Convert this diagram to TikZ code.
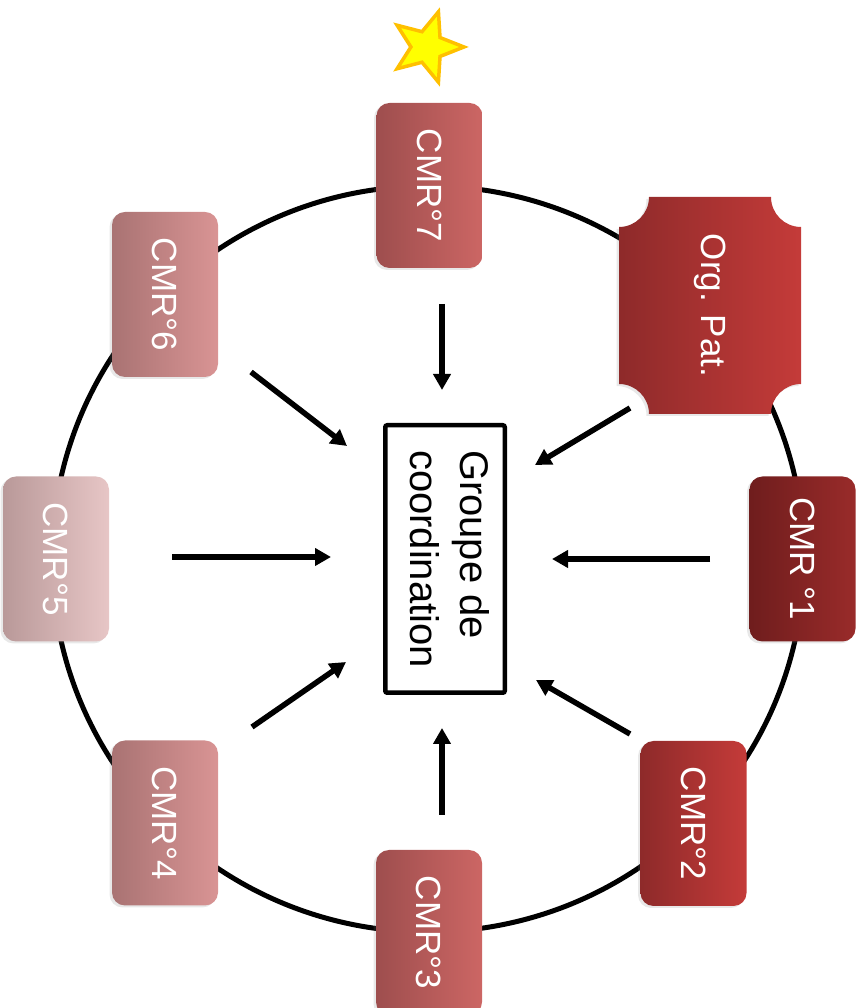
\documentclass[tikz,border=0pt]{standalone}
\usepackage{fontspec}
\setmainfont{Liberation Sans}
\usetikzlibrary{arrows.meta,shapes.geometric,shadows}

\definecolor{deepL}{HTML}{6F1D1D}
\definecolor{deepR}{HTML}{992B2A}
\definecolor{strongL}{HTML}{8E2A2A}
\definecolor{strongR}{HTML}{C43B39}
\definecolor{midL}{HTML}{9E4E4E}
\definecolor{midR}{HTML}{CC6664}
\definecolor{softL}{HTML}{A97373}
\definecolor{softR}{HTML}{D99494}
\definecolor{paleL}{HTML}{B99999}
\definecolor{paleR}{HTML}{E7C6C6}
\definecolor{starfill}{HTML}{FFFF00}
\definecolor{starline}{HTML}{FFC000}

\newcommand{\vtext}[1]{\rotatebox{-90}{#1}}

\begin{document}
\begin{tikzpicture}[x=1pt, y=1pt,
    faint/.style={drop shadow={shadow xshift=-2.5pt, shadow yshift=-2pt, opacity=.18}},
    cmr/.style={rectangle, rounded corners=13pt, minimum width=106pt, minimum height=165pt,
        inner sep=0pt, text=white, font=\fontsize{35}{42}\selectfont, faint},
    deep/.style={cmr, left color=deepL, right color=deepR},
    strong/.style={cmr, left color=strongL, right color=strongR},
    mid/.style={cmr, left color=midL, right color=midR},
    soft/.style={cmr, left color=softL, right color=softR},
    pale/.style={cmr, left color=paleL, right color=paleR},
    hub/.style={rectangle, draw, line width=4.5pt, rounded corners=2pt, minimum width=119.5pt,
        minimum height=267.5pt, inner sep=0pt, font=\fontsize{40}{50}\selectfont},
    flow/.style={line width=5.5pt, -{Triangle[length=16pt, width=17pt]}},
    ring/.style={line width=5pt}
]
    \useasboundingbox (0,0) rectangle (865,1008);

    % ring behind the boxes
    \coordinate (rc) at (428,449);
    \draw[ring] (rc) ellipse[x radius=376, y radius=373];

    % concave-cornered box
    \coordinate (orgc) at (710,702.5);
    \begin{scope}[shift={(orgc)}]
        \shade[left color=strongL, right color=strongR, faint]
            (-61,108.5) -- (61,108.5) arc[start angle=180, end angle=270, radius=30]
            -- (91,-78.5) arc[start angle=90, end angle=180, radius=30]
            -- (-61,-108.5) arc[start angle=0, end angle=90, radius=30]
            -- (-91,78.5) arc[start angle=270, end angle=360, radius=30] -- cycle;
    \end{scope}
    \node[text=white, font=\fontsize{35}{42}\selectfont] (org) at (orgc) {\vtext{Org. Pat.}};

    \node[mid] (c7) at (429.5,822.5) {\vtext{CMR°7}};
    \node[deep] (c1) at (802.5,449) {\vtext{CMR °1}};
    \node[strong] (c2) at (693.5,184.5) {\vtext{CMR°2}};
    \node[mid] (c3) at (429,75.5) {\vtext{CMR°3}};
    \node[soft] (c4) at (165,185) {\vtext{CMR°4}};
    \node[pale] (c5) at (56,449) {\vtext{CMR°5}};
    \node[soft] (c6) at (165,713.5) {\vtext{CMR°6}};

    \node[hub] (grp) at (445,449) {\vtext{\begin{tabular}{@{}l@{}}Groupe de\\coordination\end{tabular}}};

    \node[star, star points=5, star point ratio=2.3, shape border rotate=-90, minimum size=74pt,
        inner sep=0pt, fill=starfill, draw=starline, line width=3.5pt] (mark) at (427,961) {};

    % arrows towards the group
    \foreach \n/\sx/\sy/\ex/\ey in {7/442/704/442/618, org/630/600/535/543, 1/710/449/552/449,
        2/630/274/536/328, 3/442/193/442/280, 4/252/281/346/346, 5/172/451/331/451, 6/251/636/347/562}{
        \coordinate (s\n) at (\sx,\sy);
        \coordinate (e\n) at (\ex,\ey);
        \draw[flow] (s\n) -- (e\n);
    }
\end{tikzpicture}
\end{document}
